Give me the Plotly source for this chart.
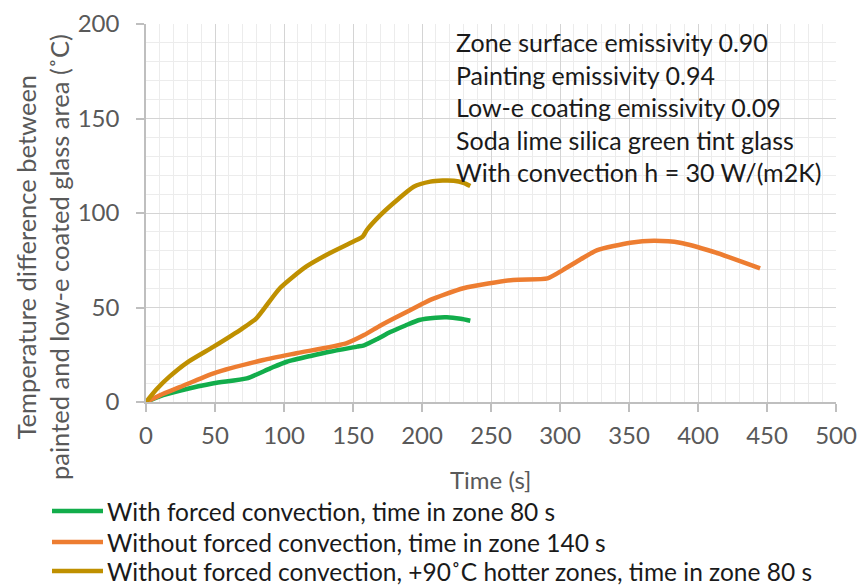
import plotly.graph_objects as go

# ---- data ----
green_t = [0, 10, 25, 49, 73, 90, 102, 120, 133, 153, 158, 168, 177, 188, 198, 210, 218, 228, 235]
green_v = [0, 3, 6, 9.9, 12.5, 17.8, 21.3, 24.5, 26.6, 29.3, 30, 33.5, 37, 40.5, 43.4, 44.6, 44.8, 44, 43]

orange_t = [0, 10, 25, 49, 85, 109, 145, 158, 170, 182, 201, 206, 230, 266, 291, 302, 315, 327, 351, 368, 387, 411, 445]
orange_v = [0, 3.5, 8, 15.2, 22.2, 25.8, 31, 35.4, 40.5, 45.1, 52.2, 54, 60.2, 64.6, 65.4, 69.8, 75.5, 80.4, 84.3, 85.3, 84.3, 79.5, 70.7]

gold_t = [0, 8, 17, 30, 49, 70, 80, 97, 116, 133, 150, 157, 160, 170, 182, 194, 206, 215, 223, 230, 235]
gold_v = [0, 7, 13.4, 21, 29.3, 39, 44.3, 60.2, 71.6, 78.7, 84.8, 87.5, 91, 99, 106.9, 113.9, 116.6, 117.2, 117.1, 116, 114.3]

series_names = [
    "With forced convection, time in zone 80 s",
    "Without forced convection, time in zone 140 s",
    "Without forced convection, +90˚C hotter zones, time in zone 80 s",
]
series_colors = ["#12ad4b", "#ed7d31", "#bf9000"]

info_lines = [
    "Zone surface emissivity 0.90",
    "Painting emissivity 0.94",
    "Low-e coating emissivity 0.09",
    "Soda lime silica green tint glass",
    "With convection h = 30 W/(m2K)",
]
x_title = "Time (s]"
y_title = "Temperature difference between<br>painted and low-e coated glass area (˚C)"

FONT = "Lato, Roboto, sans-serif"

fig = go.Figure()
for t, v, name, col in zip([green_t, orange_t, gold_t], [green_v, orange_v, gold_v], series_names, series_colors):
    fig.add_trace(go.Scatter(x=t, y=v, mode="lines", name=name, showlegend=False,
                             line=dict(color=col, width=4.5, shape="spline", smoothing=0.6)))

# body margin is removed below, so figure fills the 859x587 window
W, H = 859, 587
L, T = 146, 24
PR, PB = 836, 402
R, B = W - PR, H - PB
pw, ph = PR - L, PB - T

def px(xpage):
    return (xpage - L) / pw

def py(ypage):
    return (PB - ypage) / ph

annotations = []
for i, line in enumerate(info_lines):
    annotations.append(dict(text=line, xref="paper", yref="paper", x=px(454), y=py(42 + 32.5 * i),
                            xanchor="left", yanchor="middle", showarrow=False,
                            font=dict(family=FONT, size=25, color="#1a1a1a")))
annotations.append(dict(text=x_title, xref="paper", yref="paper", x=px(490), y=py(479),
                        xanchor="center", yanchor="middle", showarrow=False,
                        font=dict(family=FONT, size=24, color="#595959")))
annotations.append(dict(text=y_title, xref="paper", yref="paper", x=px(42), y=py(257),
                        xanchor="center", yanchor="middle", showarrow=False, textangle=-90,
                        font=dict(family=FONT, size=25.5, color="#595959")))

# legend drawn as key lines + text below the plot
shapes = []
legend_rows = [511, 542, 571]
for name, col, yrow in zip(series_names, series_colors, legend_rows):
    shapes.append(dict(type="line", xref="paper", yref="paper", x0=px(52), x1=px(103),
                       y0=py(yrow), y1=py(yrow), line=dict(color=col, width=4.5)))
    annotations.append(dict(text=name, xref="paper", yref="paper", x=px(105), y=py(yrow),
                            xanchor="left", yanchor="middle", showarrow=False,
                            font=dict(family=FONT, size=24.5, color="#1a1a1a")))

axis_common = dict(
    showgrid=True, gridcolor="#d4d4d4", gridwidth=1,
    showline=True, linecolor="#bfbfbf", linewidth=1.5,
    ticks="outside", ticklen=8, tickcolor="#bfbfbf", tickwidth=1.5,
    zeroline=False, automargin=False,
    tickfont=dict(family=FONT, size=24, color="#595959"),
    minor=dict(dtick=10, showgrid=True, gridcolor="#ececec", gridwidth=1, ticks=""),
)

fig.update_layout(
    width=W, height=H, autosize=False,
    margin=dict(l=L, r=R, t=T, b=B, autoexpand=False),
    paper_bgcolor="white", plot_bgcolor="white",
    xaxis=dict(range=[0, 500], dtick=50, tick0=0, ticklabelstandoff=3, **axis_common),
    yaxis=dict(range=[0, 200], dtick=50, tick0=0, ticklabelstandoff=12, **axis_common),
    showlegend=False,
    annotations=annotations,
    shapes=shapes,
)

fig.write_html(
    "out.html",
    config={"displayModeBar": False},
    post_script="document.body.style.margin='0';document.documentElement.style.overflow='hidden';",
)
